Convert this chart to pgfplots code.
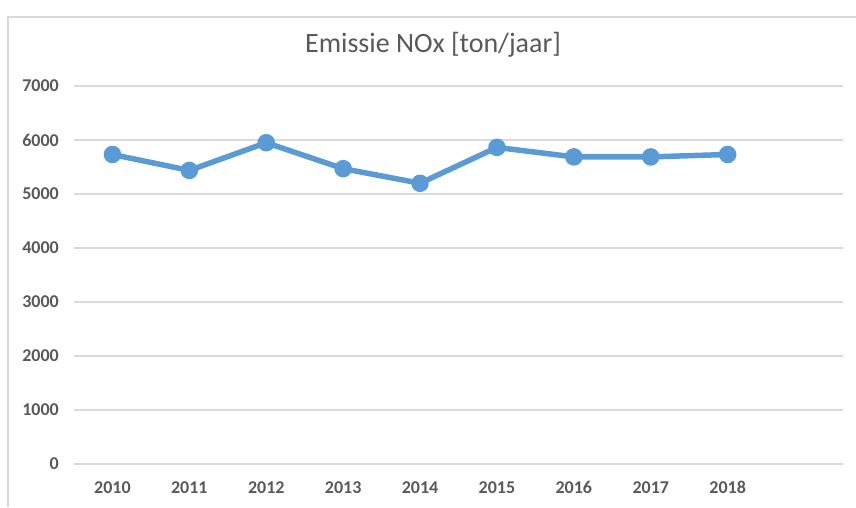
\documentclass[border=0pt]{standalone}
\usepackage{fontspec}
\setmainfont{Carlito}
\usepackage{pgfplots}
\pgfplotsset{compat=1.18}
\usetikzlibrary{calc}
\definecolor{linecol}{HTML}{5B9BD5}
\definecolor{gridcol}{HTML}{D9D9D9}
\definecolor{txtcol}{HTML}{595959}
\begin{document}
\begin{tikzpicture}
\begin{axis}[
  scale only axis, width=769pt, height=378pt,
  xmin=-0.5, xmax=9.5, ymin=0, ymax=7000,
  xtick={0,1,2,3,4,5,6,7,8},
  xticklabels={2010,2011,2012,2013,2014,2015,2016,2017,2018},
  ytick={0,1000,2000,3000,4000,5000,6000,7000},
  ymajorgrids, major grid style={gridcol, line width=1.5pt},
  axis line style={draw=none},
  tick style={draw=none},
  ticklabel style={font=\fontsize{18}{20}\selectfont\bfseries, text=txtcol, inner sep=0pt},
  /pgf/number format/assume math mode=true,
  /pgf/number format/1000 sep={},
  yticklabel style={anchor=east, xshift=-15pt},
  xticklabel style={anchor=north, yshift=-17pt},
  clip=false,
]
\coordinate (ll) at (rel axis cs:0,0);
\addplot[linecol, line width=5.5pt, line join=round, mark=*, mark size=6pt,
  mark options={fill=linecol, draw=none, solid}]
  coordinates {(0,5732) (1,5437) (2,5950) (3,5469) (4,5199) (5,5863) (6,5687) (7,5687) (8,5732)};
\end{axis}
\draw[gridcol, line width=1.5pt] ($(ll)+(-66pt,-43pt)$) -- ($(ll)+(-66pt,447pt)$) -- ($(ll)+(782pt,447pt)$);
\node[text=txtcol, font=\fontsize{28}{32}\selectfont, anchor=center] at ($(ll)+(359pt,419pt)$) {Emissie NOx [ton/jaar]};
\pgfresetboundingbox
\path[use as bounding box] ($(ll)+(-74pt,-43pt)$) rectangle ($(ll)+(782pt,464pt)$);
\end{tikzpicture}
\end{document}
